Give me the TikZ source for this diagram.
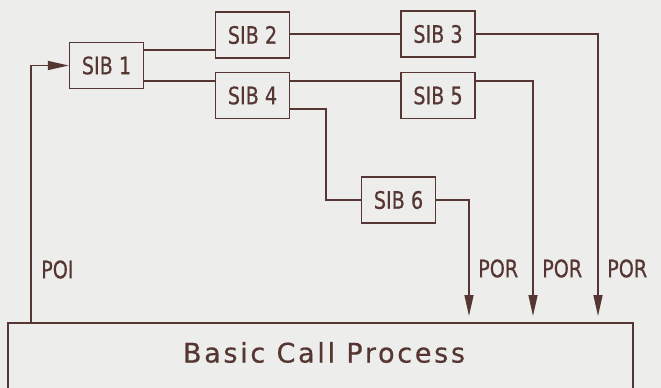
\documentclass[tikz,border=0pt]{standalone}
\usepackage{fontspec}
\setmainfont{DejaVu Sans}
\newfontfamily\labfont[FakeBold=0.6]{DejaVu Sans}
\newfontfamily\bcpfont[LetterSpace=10,FakeBold=0.6]{DejaVu Sans}
\usetikzlibrary{arrows.meta}
\definecolor{ink}{HTML}{553632}
\definecolor{paper}{HTML}{EDEDEB}
\newcommand{\narrowtxt}[1]{\scalebox{0.8}[1]{#1}}
\begin{document}
\begin{tikzpicture}[x=1pt,y=-1pt,
  sib/.style={draw=ink, line width=1.5pt, minimum width=74pt, minimum height=46pt,
    inner sep=0pt, font=\labfont\fontsize{24}{24}\selectfont, text=ink},
  conn/.style={draw=ink, line width=1.5pt},
  arr/.style={conn, -{Triangle[length=21pt,width=9pt]}},
  lab/.style={text=ink, font=\labfont\fontsize{24}{24}\selectfont, inner sep=0pt, anchor=west}]
\fill[paper] (0,0) rectangle (661,388);
\useasboundingbox (0,0) rectangle (661,388);
\clip (0,0) rectangle (661,388);

\node[sib] (s1) at (106.5,65.5) {\narrowtxt{SIB 1}};
\node[sib] (s2) at (252.5,35) {\narrowtxt{SIB 2}};
\node[sib] (s3) at (438,34) {\narrowtxt{SIB 3}};
\node[sib] (s4) at (252.5,95.5) {\narrowtxt{SIB 4}};
\node[sib] (s5) at (438,95.5) {\narrowtxt{SIB 5}};
\node[sib] (s6) at (398.5,200) {\narrowtxt{SIB 6}};

\node[draw=ink, line width=1.5pt, minimum width=625pt, minimum height=80pt, inner sep=0pt] (bcp) at (320.5,363) {};
\node[text=ink, font=\bcpfont\fontsize{27}{27}\selectfont, inner sep=0pt] (bcpt) at (324,352.5) {Basic Call Process};

\coordinate (k6) at (326,200);
\coordinate (t3) at (598,316);
\coordinate (t5) at (533,316);
\coordinate (t6) at (469,316);

\draw[conn] (s1.east |- 0,50) -- (s2.west |- 0,50);
\draw[conn] (s2.east |- 0,34) -- (s3.west |- 0,34);
\draw[conn] (s1.east |- 0,81) -- (s4.west |- 0,81);
\draw[conn] (s4.east |- 0,81) -- (s5.west |- 0,81);
\draw[conn] (s4.east |- 0,109) -| (k6) -- (s6.west);

\draw[arr] (s3.east) -| (t3);
\draw[arr] (s5.east |- 0,81) -| (t5);
\draw[arr] (s6.east) -| (t6);
\draw[arr] (bcp.north -| 31,0) |- (s1.west);

\node[lab] (por1) at (478,268.5) {\narrowtxt{POR}};
\node[lab] (por2) at (542,268.5) {\narrowtxt{POR}};
\node[lab] (por3) at (607,268.5) {\narrowtxt{POR}};
\node[lab] (poi) at (41,269.5) {\narrowtxt{POI}};
\end{tikzpicture}
\end{document}
